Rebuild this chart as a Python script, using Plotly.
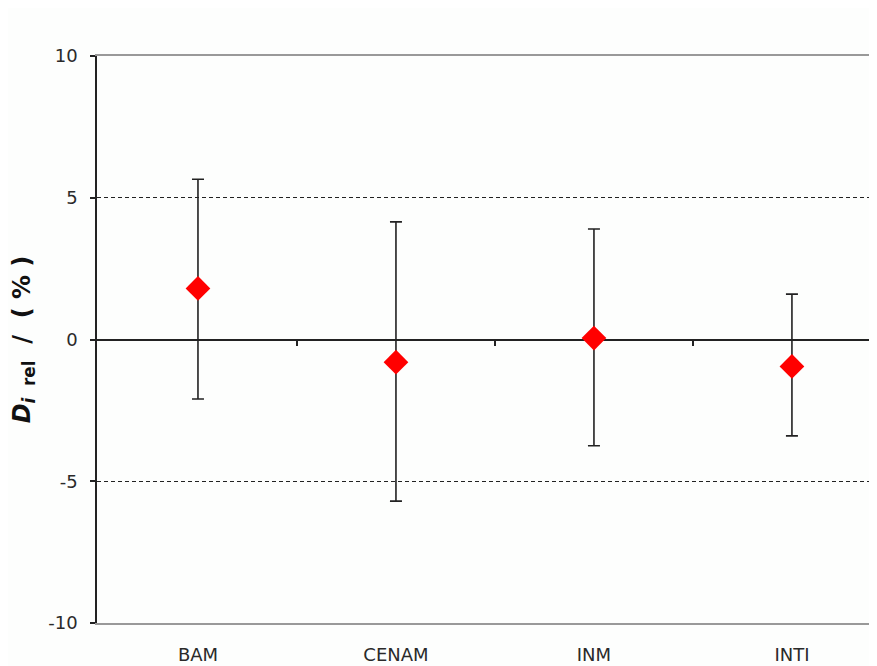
import plotly.graph_objects as go

categories = ["BAM", "CENAM", "INM", "INTI"]
values = [1.8, -0.8, 0.05, -0.95]
upper = [5.65, 4.15, 3.9, 1.6]
lower = [-2.1, -5.7, -3.75, -3.4]
y_ticks = [-10, -5, 0, 5, 10]
y_tick_text = ["-10", "-5", "0", "5", "10"]

xs = list(range(len(categories)))
err_plus = [u - v for u, v in zip(upper, values)]
err_minus = [v - l for v, l in zip(values, lower)]

fig = go.Figure()
fig.add_trace(go.Scatter(
    x=xs, y=values, mode="markers",
    marker=dict(symbol="diamond", size=19, color="#ff0000", line=dict(width=0)),
    error_y=dict(type="data", symmetric=False, array=err_plus, arrayminus=err_minus,
                 color="#222222", thickness=1.6, width=6),
    showlegend=False,
))
fig.add_trace(go.Scatter(x=xs, y=values, xaxis="x2", mode="markers",
                         marker=dict(opacity=0), showlegend=False, hoverinfo="skip"))

xr = [-0.51, 3.47]
fig.update_layout(
    width=877, height=666,
    margin=dict(l=89, r=0, t=48, b=51),
    paper_bgcolor="#fdfefd", plot_bgcolor="#fdfefd",
    font=dict(family="DejaVu Sans", size=19, color="#222222"),
    xaxis=dict(range=xr, tickvals=xs, ticktext=categories, showgrid=False, zeroline=False,
               showline=True, linecolor="#999999", linewidth=2, mirror=True,
               ticks="", ticklabelstandoff=14, tickfont=dict(size=18, color="#2a2a2a")),
    xaxis2=dict(range=xr, overlaying="x", anchor="free", position=0.5, side="bottom",
                showgrid=False, zeroline=False, showline=False,
                tickvals=[0.5, 1.5, 2.5], ticks="outside", ticklen=5, tickwidth=1.5,
                tickcolor="#222222", showticklabels=False),
    yaxis=dict(range=[-10, 10], tickvals=y_ticks, ticktext=y_tick_text,
               showgrid=True, gridcolor="#222222",
               griddash="4px,3px", gridwidth=1.3, zeroline=True, zerolinecolor="#222222",
               zerolinewidth=1.6, showline=True, linecolor="#222222", linewidth=1.6,
               ticks="outside", ticklen=5, tickwidth=1.5, tickcolor="#222222",
               ticklabelstandoff=9,
               tickfont=dict(size=18, color="#2a2a2a"),
               title=dict(text="<b><i>D</i><sub><i>i</i>  rel</sub>  /  ( % )</b>",
                          font=dict(size=24, color="#111111"), standoff=18)),
)
fig.write_html("out.html")
